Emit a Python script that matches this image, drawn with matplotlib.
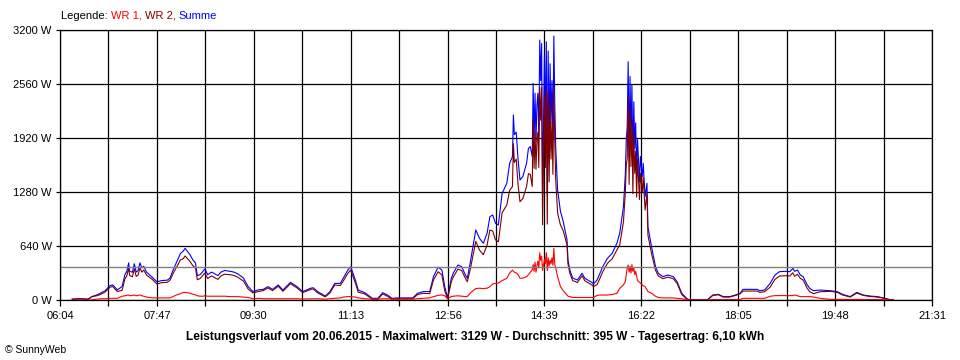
import numpy as np
import matplotlib
matplotlib.use("Agg")
import matplotlib.pyplot as plt

plt.rcParams['font.family'] = ['Liberation Sans', 'DejaVu Sans']

# time of each sample, minutes since midnight
times = [
    377, 385, 394, 398, 403, 407, 412, 417, 420, 425, 430, 433, 435, 437, 438, 441, 443, 445, 447, 449,
    451, 453, 456, 462, 467, 472, 478, 481, 484, 488, 492, 495, 497, 500, 502, 505, 508, 510, 513, 516,
    518, 521, 525, 527, 530, 532, 535, 539, 545, 549, 553, 559, 564, 569, 575,
    580, 585, 590, 596, 601, 609, 616, 622, 630, 633, 638, 646, 651, 656, 662, 665, 670, 673, 678, 681,
    688, 696, 702, 707, 712, 717, 723, 731, 739, 744, 750, 757, 761, 766, 770, 773, 776,
    780, 782, 787, 791, 795, 797, 800, 803, 806, 810, 814, 818, 821, 824, 827, 830, 834, 839, 842, 845,
    846, 847, 849, 851, 853, 856, 860, 862, 864, 866, 867, 868, 869, 870, 871, 872, 873, 874, 875, 876,
    877, 879, 880, 881, 882, 883, 884, 885, 886, 887, 888, 889, 890, 891, 893, 896, 899, 903, 904, 906,
    909, 914, 919, 922, 925, 930, 931, 935, 938, 941, 946, 951, 956, 959, 963, 965, 966, 967, 968, 969,
    970, 971, 972, 973, 974, 975, 976, 977, 978, 980, 981, 983, 984, 986, 988, 989, 993, 997, 1000, 1005,
    1010, 1016, 1020, 1025, 1031, 1036,
    1044, 1052, 1053, 1058, 1064, 1069, 1076, 1082, 1087, 1090, 1098, 1105, 1108, 1113, 1119, 1124, 1129,
    1135, 1140, 1143, 1145, 1148, 1151, 1154, 1158, 1161, 1165, 1172, 1183, 1190, 1196, 1204, 1211, 1218,
    1225, 1233, 1239, 1246, 1250,
]

# total power (W)
summe = [
    10, 15, 10, 40, 60, 80, 110, 170, 180, 120, 160, 300, 340, 440, 340, 330, 430, 330, 350, 440,
    380, 400, 330, 270, 215, 230, 235, 260, 350, 450, 550, 580, 612, 570, 540, 480, 440, 290, 300, 340,
    370, 300, 330, 320, 300, 290, 330, 350, 340, 330, 310, 260, 160, 100, 120,
    126, 158, 126, 178, 118, 209, 158, 99, 138, 146, 99, 47, 99, 197, 197, 257, 355, 395, 237, 118,
    87, 20, 20, 87, 60, 20, 25, 25, 25, 79, 99, 100, 276, 390, 355, 158, 30,
    257, 316, 415, 395, 296, 257, 435, 632, 830, 731, 672, 790, 988, 1007, 909, 889, 1264, 1383, 1620, 1700,
    2193, 1960, 1990, 1660, 1422, 1462, 1620, 1798, 1817, 1700, 2568, 1900, 2450, 1880, 2300, 2450, 1950, 3081, 2600, 3041,
    1240, 2900, 2000, 3060, 1250, 2950, 1800, 2800, 2100, 2600, 1900, 3129, 2300, 1800, 1304, 1050, 930, 711, 474, 356,
    260, 237, 316, 257, 237, 205, 190, 237, 316, 395, 494, 553, 672, 790, 1106, 1502, 1900, 2054, 2824, 1700,
    2650, 1900, 2550, 1600, 2350, 1800, 2100, 1500, 1900, 1400, 1700, 1462, 1620, 1224, 1383, 869, 620, 400, 316, 277,
    296, 277, 217, 79, 10, 0,
    0, 0, 8, 59, 67, 40, 40, 59, 79, 126, 126, 126, 110, 118, 197, 296, 336,
    340, 336, 375, 340, 355, 296, 277, 185, 138, 110, 118, 110, 100, 67, 40, 90, 59,
    47, 40, 25, 5, 0,
]

# WR 1 power (W)
wr1 = [
    0, 0, 0, 0, 10, 15, 15, 20, 20, 20, 45, 50, 55, 60, 50, 55, 60, 50, 55, 60,
    50, 45, 35, 25, 25, 25, 25, 25, 40, 60, 75, 90, 90, 85, 80, 70, 60, 50, 45, 45,
    50, 45, 45, 45, 45, 45, 45, 45, 40, 40, 40, 35, 30, 15, 20,
    15, 15, 15, 15, 15, 15, 15, 12, 15, 15, 15, 10, 15, 20, 25, 35, 40, 40, 35, 25,
    15, 10, 10, 15, 15, 10, 10, 10, 10, 15, 20, 25, 40, 55, 60, 50, 15,
    40, 45, 50, 45, 40, 40, 80, 110, 135, 140, 135, 140, 158, 190, 197, 200, 230, 257, 320, 355,
    340, 330, 320, 300, 257, 260, 276, 300, 330, 355, 420, 340, 450, 330, 400, 460, 380, 560, 470, 520,
    350, 480, 430, 560, 350, 500, 400, 470, 430, 500, 410, 612, 420, 380, 276, 160, 110, 60, 45, 40,
    30, 30, 30, 30, 30, 30, 30, 55, 59, 59, 59, 65, 79, 138, 180, 217, 300, 380, 415, 330,
    400, 320, 420, 340, 380, 300, 340, 280, 230, 210, 200, 180, 170, 158, 120, 100, 79, 45, 30, 25,
    25, 25, 20, 15, 5, 0,
    0, 0, 0, 5, 5, 5, 5, 5, 5, 20, 20, 20, 20, 20, 44, 52, 52,
    52, 52, 52, 59, 50, 40, 40, 40, 40, 35, 20, 8, 8, 8, 5, 8, 5,
    5, 5, 3, 0, 0,
]

wr2 = [s - r for s, r in zip(summe, wr1)]

average_w = 395
y_ticks = [0, 640, 1280, 1920, 2560, 3200]
x_labels = ["06:04", "07:47", "09:30", "11:13", "12:56", "14:39", "16:22", "18:05", "19:48", "21:31"]

fig = plt.figure(figsize=(9.6, 3.6), dpi=100)
ax = fig.add_axes([60 / 960, 60 / 360, 872 / 960, 270 / 360])

ax.plot(times, summe, color='#0000ff', lw=0.8)
ax.plot(times, wr2, color='#800000', lw=0.8)
ax.plot(times, wr1, color='#ff0000', lw=0.8)
ax.axhline(average_w, color='#808080', lw=1.0)

t0, t1 = 364, 1291
ax.set_xlim(t0, t1)
ax.set_ylim(0, 3200)

step = (t1 - t0) / 18
xt = [t0 + i * step for i in range(19)]
ax.set_xticks(xt)
ax.set_xticklabels([x_labels[i // 2] if i % 2 == 0 else '' for i in range(19)])
ax.set_yticks(y_ticks)
ax.set_yticklabels([f"{v} W" for v in y_ticks])
ax.grid(True, color='black', lw=0.9)
ax.set_axisbelow(True)
for s in ax.spines.values():
    s.set_color('black')
    s.set_linewidth(0.9)
ax.tick_params(axis='x', length=4, width=0.9, pad=4, labelsize=8)
ax.tick_params(axis='y', length=3, width=0.9, pad=3, labelsize=8)

# coloured legend line
renderer = fig.canvas.get_renderer()
x = 61 / 960
for txt, col in [("Legende: ", 'black'), ("WR 1, ", '#ff0000'), ("WR 2, ", '#800000'), ("Summe", '#0000ff')]:
    t = fig.text(x, 1 - 16 / 360, txt, color=col, fontsize=8, va='center', ha='left')
    bb = t.get_window_extent(renderer=renderer)
    x += bb.width / fig.bbox.width

fig.text(475 / 960, 1 - 337 / 360,
         "Leistungsverlauf vom 20.06.2015 - Maximalwert: 3129 W - Durchschnitt: 395 W - Tagesertrag: 6,10 kWh",
         ha='center', va='center', fontsize=8.6, weight='bold')
fig.text(5 / 960, 1 - 350 / 360, "© SunnyWeb", ha='left', va='center', fontsize=7.5)

fig.savefig("out.png", dpi=100)
